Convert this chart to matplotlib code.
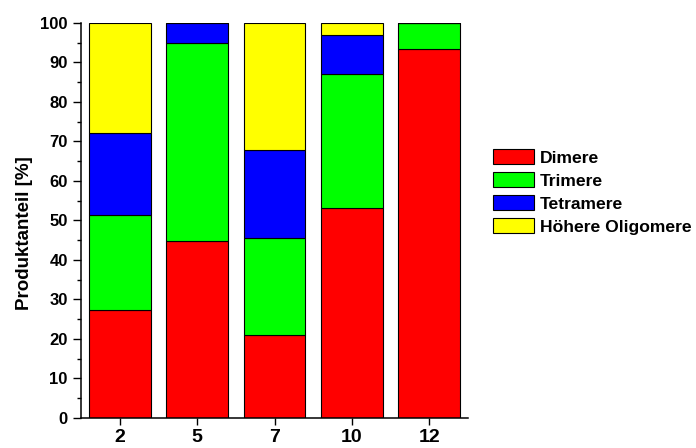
import numpy as np
import matplotlib
matplotlib.use('Agg')
import matplotlib.pyplot as plt
from matplotlib.ticker import MultipleLocator

plt.rcParams['font.family'] = ['Liberation Sans', 'DejaVu Sans']
plt.rcParams['font.weight'] = 'bold'

# Kettenlaenge / Kategorien
categories = ['2', '5', '7', '10', '12']

# Produktanteile in %
dimere = [27.3, 44.9, 21.0, 53.1, 93.5]
trimere = [24.2, 50.0, 24.6, 34.0, 6.5]
tetramere = [20.7, 5.1, 22.2, 9.9, 0.0]
hoehere = [27.8, 0.0, 32.2, 3.0, 0.0]

series = [('Dimere', dimere, '#ff0000'),
          ('Trimere', trimere, '#00ff00'),
          ('Tetramere', tetramere, '#0000ff'),
          ('Höhere Oligomere', hoehere, '#ffff00')]

fig = plt.figure(figsize=(6.96, 4.48), dpi=100)
ax = fig.add_axes([0.1164, 0.067, 0.556, 0.8817])

x = np.arange(len(categories))
bottom = np.zeros(len(categories))
for name, vals, col in series:
    vals = np.array(vals)
    ax.bar(x, vals, width=0.8, bottom=bottom, color=col, edgecolor='black',
           linewidth=0.8, label=name)
    bottom += vals

ax.set_xlim(-0.5, 4.5)
ax.set_ylim(0, 100)
ax.set_xticks(x)
ax.set_xticklabels(categories, fontsize=14, fontweight='bold')
ax.yaxis.set_major_locator(MultipleLocator(10))
ax.yaxis.set_minor_locator(MultipleLocator(5))
for lab in ax.get_yticklabels():
    lab.set_fontsize(12)
    lab.set_fontweight('bold')
ax.tick_params(axis='y', which='major', direction='out', length=6, width=1)
ax.tick_params(axis='y', which='minor', direction='out', length=3, width=1)
ax.tick_params(axis='x', which='major', direction='out', length=5, width=1, pad=3)
ax.set_ylabel('Produktanteil [%]', fontsize=13.5, fontweight='bold')
ax.yaxis.set_label_coords(-0.124, 0.468)

ax.spines['top'].set_visible(False)
ax.spines['right'].set_visible(False)
ax.spines['left'].set_linewidth(1.1)
ax.spines['bottom'].set_linewidth(1.1)

fig.legend(loc='center left', bbox_to_anchor=(0.708, 0.5715), frameon=False,
           prop={'weight': 'bold', 'size': 12.6},
           handlelength=2.34, handleheight=0.95, handletextpad=0.35,
           labelspacing=0.36, borderpad=0, borderaxespad=0)

fig.savefig('out.png', dpi=100)
